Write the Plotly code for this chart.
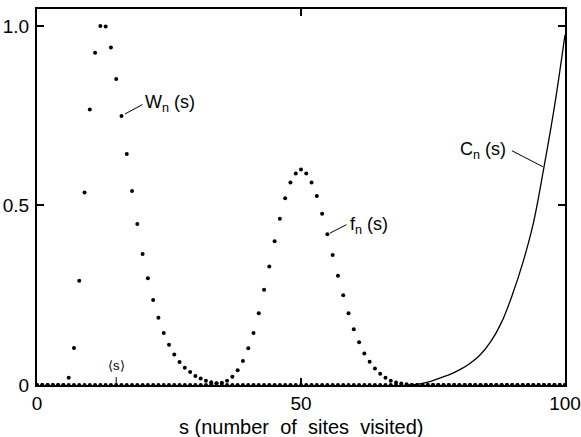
import plotly.graph_objects as go

# number of sites visited
s_values = list(range(0, 101))

# W_n(s): nonzero from s = 6 to 35
w_start = 6
w_values = [0.02, 0.103, 0.29, 0.536, 0.767, 0.925, 1.0, 0.998, 0.94, 0.852,
            0.749, 0.643, 0.54, 0.448, 0.365, 0.297, 0.237, 0.187, 0.145, 0.112,
            0.085, 0.064, 0.048, 0.036, 0.025, 0.018, 0.012, 0.008, 0.005, 0.003]

# f_n(s): nonzero from s = 33 to 70
f_start = 33
f_values = [0.002, 0.004, 0.006, 0.012, 0.023, 0.041, 0.067, 0.102, 0.145, 0.2,
            0.265, 0.33, 0.4, 0.463, 0.52, 0.564, 0.589, 0.6, 0.589, 0.564,
            0.526, 0.477, 0.42, 0.362, 0.304, 0.25, 0.2, 0.155, 0.119, 0.088,
            0.065, 0.046, 0.031, 0.02, 0.012, 0.007, 0.004, 0.002]

# C_n(s): cumulative curve
c_s = [70, 72, 74, 76, 78, 80, 82, 84, 86, 88, 90, 92, 94, 96, 98, 100]
c_values = [0.0, 0.002, 0.008, 0.018, 0.028, 0.042, 0.06, 0.085, 0.122, 0.175,
            0.25, 0.34, 0.45, 0.605, 0.775, 0.975]

# mean number of sites visited
s_mean = 15.0

x_ticks = [0, 50, 100]
y_ticks = [0, 0.5, 1.0]
y_tick_text = ["0", "0.5", "1.0"]


def full_series(start, vals):
    out = [0.0] * len(s_values)
    for i, v in enumerate(vals):
        out[start + i] = v
    return out


W = full_series(w_start, w_values)
F = full_series(f_start, f_values)

FONT = "Liberation Sans, Arial, sans-serif"
BLACK = "black"

fig = go.Figure()
fig.add_trace(go.Scatter(x=s_values, y=W, mode="markers",
                         marker=dict(color=BLACK, size=4), cliponaxis=False,
                         showlegend=False))
fig.add_trace(go.Scatter(x=s_values, y=F, mode="markers",
                         marker=dict(color=BLACK, size=4), cliponaxis=False,
                         showlegend=False))
fig.add_trace(go.Scatter(x=c_s, y=c_values, mode="lines",
                         line=dict(color=BLACK, width=1.3, shape="spline"),
                         showlegend=False))


def leader(s, v, x0, y0, x1, y1):
    # short pointer line anchored at a data point, offsets in pixels
    return dict(type="line", xref="x", yref="y", xsizemode="pixel",
                ysizemode="pixel", xanchor=s, yanchor=v,
                x0=x0, y0=y0, x1=x1, y1=y1,
                line=dict(color=BLACK, width=1))


shapes = [
    leader(16, W[16], 3.5, 2, 21, 11.5),
    leader(55, F[55], 2.5, 1, 19, 9.5),
    leader(96, c_values[13], -1, 1, -32, 17),
    # tick marking the mean
    leader(s_mean, 0, 0, 0, 0, 8),
]

lab_font = dict(family=FONT, size=18, color=BLACK)
ann = [
    dict(x=16, y=W[16], xref="x", yref="y", text="W<sub>n</sub> (s)",
         showarrow=False, xanchor="left", yanchor="middle",
         xshift=22, yshift=13, font=lab_font),
    dict(x=55, y=F[55], xref="x", yref="y", text="f<sub>n</sub> (s)",
         showarrow=False, xanchor="left", yanchor="middle",
         xshift=21, yshift=9, font=lab_font),
    dict(x=96, y=c_values[13], xref="x", yref="y", text="C<sub>n</sub> (s)",
         showarrow=False, xanchor="right", yanchor="middle",
         xshift=-36, yshift=17, font=lab_font),
    dict(x=s_mean, y=0, xref="x", yref="y", text="⟨s⟩",
         showarrow=False, xanchor="center", yanchor="bottom",
         yshift=10, font=dict(family=FONT, size=13, color=BLACK)),
    # x-axis title
    dict(x=0.5, y=0, xref="paper", yref="paper",
         text="s (number&nbsp; of&nbsp; sites&nbsp; visited)",
         showarrow=False, xanchor="center", yanchor="middle", yshift=-42,
         font=dict(family=FONT, size=20, color=BLACK)),
]

fig.update_layout(
    width=581, height=437,
    margin=dict(l=37, r=16, t=9, b=52, autoexpand=False),
    plot_bgcolor="white", paper_bgcolor="white",
    annotations=ann, shapes=shapes,
    xaxis=dict(range=[0, 100], tickvals=x_ticks, ticktext=[str(v) for v in x_ticks],
               ticks="inside", ticklen=7, tickwidth=1.5, tickcolor=BLACK,
               showline=True, linecolor=BLACK, linewidth=2, mirror="allticks",
               showgrid=False, zeroline=False, automargin=False,
               tickfont=dict(family=FONT, size=19, color=BLACK)),
    yaxis=dict(range=[0, 1.047], tickvals=y_ticks, ticktext=y_tick_text,
               ticks="inside", ticklen=7, tickwidth=1.5, tickcolor=BLACK,
               showline=True, linecolor=BLACK, linewidth=2, mirror="allticks",
               showgrid=False, zeroline=False, automargin=False,
               ticklabelstandoff=2,
               tickfont=dict(family=FONT, size=19, color=BLACK)),
)

fig.write_html("out.html")
